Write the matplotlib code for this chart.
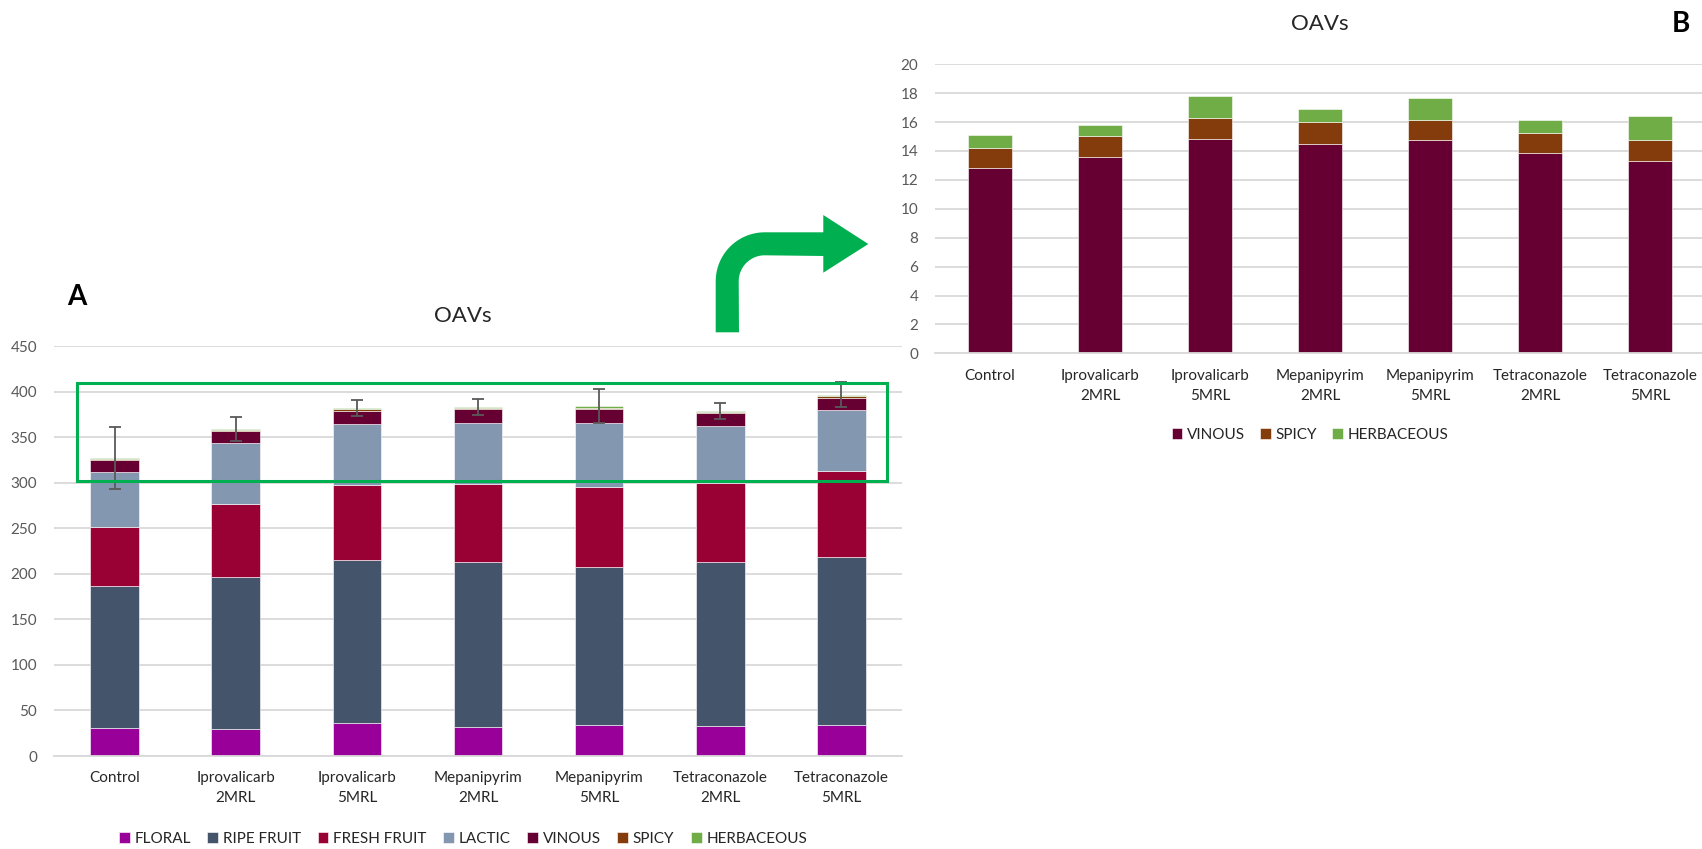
import matplotlib
matplotlib.use("Agg")
import matplotlib.pyplot as plt
import numpy as np
from matplotlib.patches import Polygon, Rectangle

plt.rcParams['font.family'] = ['Lato', 'DejaVu Sans']

# ---- data ----
categories = ['Control', 'Iprovalicarb\n2MRL', 'Iprovalicarb\n5MRL', 'Mepanipyrim\n2MRL',
              'Mepanipyrim\n5MRL', 'Tetraconazole\n2MRL', 'Tetraconazole\n5MRL']
floral = [30.3, 29.2, 35.8, 31.4, 34.4, 32.5, 33.6]
ripe_fruit = [156.7, 166.8, 179.2, 181.4, 173.3, 180.6, 185.0]
fresh_fruit = [64.0, 81.0, 82.6, 85.6, 87.3, 86.7, 94.0]
lactic = [61.0, 66.0, 66.6, 67.6, 71.0, 62.9, 67.3]
vinous = [12.80, 13.56, 14.81, 14.51, 14.74, 13.86, 13.31]
spicy = [1.43, 1.48, 1.50, 1.52, 1.43, 1.39, 1.48]
herbaceous = [0.86, 0.76, 1.48, 0.90, 1.48, 0.90, 1.63]
total_err = [34.0, 13.5, 9.0, 8.5, 18.7, 9.0, 13.7]

names_a = ['FLORAL', 'RIPE FRUIT', 'FRESH FRUIT', 'LACTIC', 'VINOUS', 'SPICY', 'HERBACEOUS']
colors_a = ['#990099', '#44546A', '#990033', '#8497B0', '#660033', '#843C0C', '#70AD47']
series_a = [floral, ripe_fruit, fresh_fruit, lactic, vinous, spicy, herbaceous]
names_b = ['VINOUS', 'SPICY', 'HERBACEOUS']
colors_b = ['#660033', '#843C0C', '#70AD47']
series_b = [vinous, spicy, herbaceous]

W, H = 1702, 849
fig = plt.figure(figsize=(W / 100, H / 100), dpi=100)
grid_c = '#D9D9D9'
tick_c = '#595959'
text_c = '#262626'


def style(ax, ymax, step):
    ax.set_xlim(-0.5, 6.5)
    ax.set_ylim(0, ymax)
    ax.set_yticks(np.arange(0, ymax + step / 2, step))
    ax.yaxis.grid(True, color=grid_c, lw=1.3, zorder=0)
    ax.set_axisbelow(True)
    for s in ['top', 'right', 'left']:
        ax.spines[s].set_visible(False)
    ax.spines['bottom'].set_color(grid_c)
    ax.spines['bottom'].set_linewidth(1.3)
    ax.tick_params(axis='y', length=0, pad=12, labelsize=11, labelcolor=tick_c)
    ax.tick_params(axis='x', length=0, pad=11, labelsize=11, labelcolor=text_c)
    ax.set_xticks(range(len(categories)))
    ax.set_xticklabels(categories, linespacing=1.55)


def stack(ax, series, names, colors):
    x = np.arange(len(categories))
    bottom = np.zeros(len(categories))
    handles = []
    for vals, name, col in zip(series, names, colors):
        h = ax.bar(x, vals, 0.4, bottom=bottom, color=col, edgecolor='white',
                   linewidth=0.4, label=name, zorder=2)
        handles.append(h)
        bottom += np.array(vals)
    return x, bottom, handles


# ---- panel A ----
axA = fig.add_axes([54 / W, 93 / H, 848 / W, 410 / H])
style(axA, 450, 50)
x, tot, hA = stack(axA, series_a, names_a, colors_a)
axA.errorbar(x, tot, yerr=total_err, fmt='none', ecolor='#595959', elinewidth=1.3,
             capsize=4.5, capthick=1.3, zorder=4)
axA.add_patch(Rectangle((-0.31, 302), 6.69, 107, fill=False, edgecolor='#00B050',
                        linewidth=2.2, clip_on=False, zorder=5))
fig.text(463 / W, (H - 316) / H, 'OAVs', ha='center', va='center', fontsize=16, color=text_c)
fig.text(77 / W, (H - 297) / H, 'A', ha='center', va='center', fontsize=20,
         fontweight='bold', color='black')
fig.legend(handles=hA, labels=names_a, loc='center', ncol=7,
           bbox_to_anchor=(463 / W, (H - 839) / H), frameon=False, fontsize=11,
           handlelength=0.7, handleheight=0.7, handletextpad=0.3, columnspacing=1.1,
           labelcolor=text_c)

# ---- panel B ----
axB = fig.add_axes([935 / W, (H - 353.3) / H, 770 / W, 289 / H])
style(axB, 20, 2)
_, _, hB = stack(axB, series_b, names_b, colors_b)
fig.text(1320 / W, (H - 24) / H, 'OAVs', ha='center', va='center', fontsize=16, color=text_c)
fig.text(1681 / W, (H - 24) / H, 'B', ha='center', va='center', fontsize=20,
         fontweight='bold', color='black')
fig.legend(handles=hB, labels=names_b, loc='center', ncol=3,
           bbox_to_anchor=(1310 / W, (H - 435) / H), frameon=False, fontsize=11,
           handlelength=0.7, handleheight=0.7, handletextpad=0.3, columnspacing=1.0,
           labelcolor=text_c)

# ---- bent green arrow (figure pixel coords) ----
ov = fig.add_axes([0, 0, 1, 1], zorder=10)
ov.set_xlim(0, W)
ov.set_ylim(H, 0)
ov.axis('off')
ov.patch.set_alpha(0)
ro, ri = 49.0, 26.0
xl, xr = 715.7, 739.0
yt, yb = 232.3, 256.0
cx, cy = xl + ro, yt + ro
a_out = np.linspace(np.pi, 1.5 * np.pi, 30)
a_in = np.linspace(1.5 * np.pi, np.pi, 30)
outer = np.column_stack([cx + ro * np.cos(a_out), cy + ro * np.sin(a_out)])
inner = np.column_stack([cx + ri * np.cos(a_in), cy + ri * np.sin(a_in)])
pts = np.vstack([[[xl, 332.3]], outer, [[823.3, yt], [823.3, 215.0], [868.3, 244.0],
                                         [823.3, 272.7], [823.3, yb]], inner, [[xr, 332.3]]])
ov.add_patch(Polygon(pts, closed=True, facecolor='#00B050', edgecolor='none'))

fig.savefig('out.png', dpi=100)
